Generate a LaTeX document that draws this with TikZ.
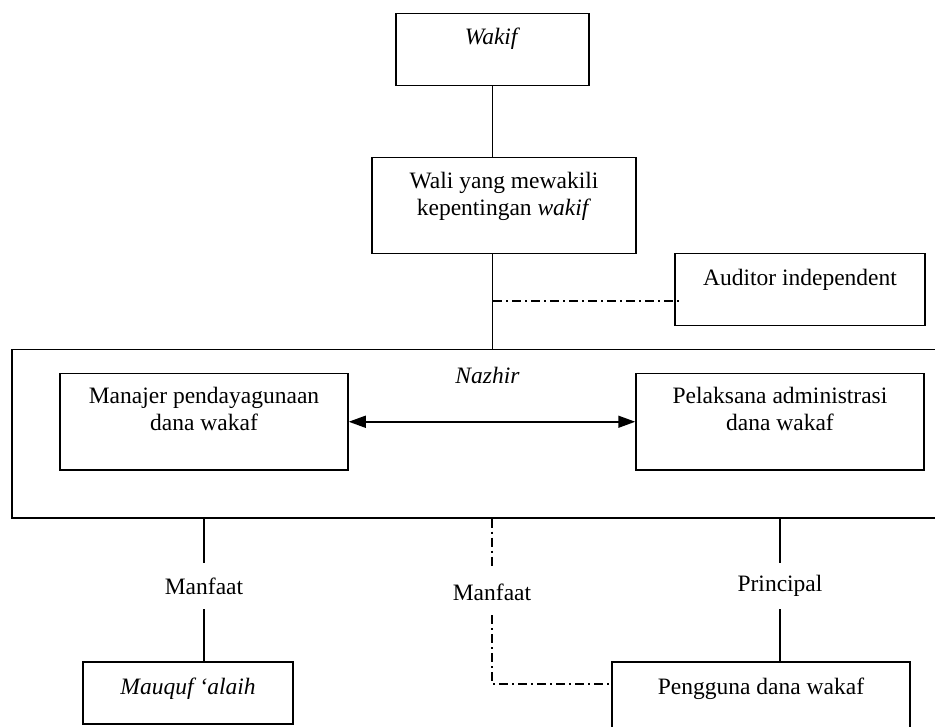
\documentclass[tikz,border=0pt]{standalone}
\usepackage{fontspec}
\setmainfont{Liberation Serif}
\usetikzlibrary{positioning,arrows.meta}

\begin{document}
\begin{tikzpicture}[
  x=1pt, y=-1pt,
  font=\fontsize{23.5}{27}\selectfont,
  %% Node styles
  box/.style={
    draw=black, line width=1.5pt, rectangle, anchor=north,
    align=center, inner xsep=0pt, inner ysep=0pt
  },
  flowlabel/.style={
    inner sep=0pt, minimum height=46pt
  },
  %% Line styles
  link/.style={line width=1.5pt},
  dashdot/.style={line width=1.5pt,
                  dash pattern=on 9pt off 4pt on 2pt off 4pt},
  twoway/.style={line width=1.5pt,
                 {Triangle[length=17pt,width=12pt]}-{Triangle[length=17pt,width=12pt]}},
]
\useasboundingbox (0,0) rectangle (935,727);
\clip (0,0) rectangle (935,727);

%% ── Top chain ──────────────────────────────────────────────────────────────
\node[box, minimum width=193pt, text height=31pt, text depth=41pt]
  (wakif) at (492.5,13) {\textit{Wakif}};
\node[box, minimum width=264pt, text height=58pt, text depth=38pt]
  (wali) at (504,157) {Wali yang mewakili\\kepentingan \textit{wakif}};
\node[box, minimum width=250pt, text height=32pt, text depth=40pt]
  (auditor) at (800,253) {Auditor independent};

%% ── Nazhir ─────────────────────────────────────────────────────────────────
\node[box, minimum width=951pt, text height=34pt, text depth=134pt]
  (nazhir) at (487.5,349) {\textit{Nazhir}};
\node[box, minimum width=288pt, text height=57pt, text depth=39pt]
  (manajer) at (204,373) {Manajer pendayagunaan\\dana wakaf};
\node[box, minimum width=288pt, text height=57pt, text depth=39pt]
  (pelaksana) at (780,373) {Pelaksana administrasi\\dana wakaf};

%% ── Receivers ──────────────────────────────────────────────────────────────
\node[box, minimum width=210pt, text height=33pt, text depth=29pt]
  (mauquf) at (188,661) {\textit{Mauquf `alaih}};
\node[box, minimum width=298pt, text height=33pt, text depth=46pt]
  (pengguna) at (761,661) {Pengguna dana wakaf};

%% flow labels
\node[flowlabel] (manfaatL) at (204,586) {Manfaat};
\node[flowlabel] (manfaatM) at (492,592) {Manfaat};
\node[flowlabel] (principal) at (780,586) {Principal};

%% taps on the dash-dot lines
\coordinate (audtap) at (493,301);
\coordinate (usetap) at (612,684);

%% ── Connectors ─────────────────────────────────────────────────────────────
\draw[link] (wakif.south) -- (wakif.south |- wali.north);
\draw[link] (wakif.south |- wali.south) -- (wakif.south |- nazhir.north);
\draw[dashdot] (audtap) -- ([xshift=8pt]audtap -| auditor.west);
\draw[twoway] (manajer.east) -- (pelaksana.west);

\draw[link] (manfaatL.north |- nazhir.south) -- (manfaatL.north);
\draw[link] (manfaatL.south) -- (manfaatL.south |- mauquf.north);
\draw[dashdot] (manfaatM.north |- nazhir.south) -- (manfaatM.north);
\draw[dashdot] (manfaatM.south) |- (usetap);
\draw[link] (principal.north |- nazhir.south) -- (principal.north);
\draw[link] (principal.south) -- (principal.south |- pengguna.north);

\end{tikzpicture}
\end{document}
